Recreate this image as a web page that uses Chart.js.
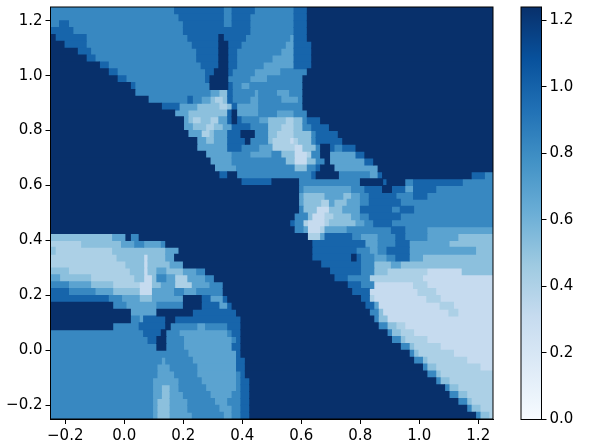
<!DOCTYPE html>
<html>
<head>
<meta charset="utf-8">
<style>
  html, body { margin: 0; background: #fff; }
  canvas { position: absolute; left: 0; top: 0; }
</style>
<script src="https://cdn.jsdelivr.net/npm/chart.js@4"></script>
</head>
<body>
<canvas id="map" width="598" height="448"></canvas>
<canvas id="bar" width="598" height="448"></canvas>
<script>
/* ============ DATA ============ */
const xTicks = [-0.2, 0, 0.2, 0.4, 0.6, 0.8, 1.0, 1.2];
const yTicks = [-0.2, 0, 0.2, 0.4, 0.6, 0.8, 1.0, 1.2];
const barTicks = [0, 0.2, 0.4, 0.6, 0.8, 1.0, 1.2];
const axisRange = [-0.25, 1.25];
const valueRange = [0, 1.24];
const columnCount = 100;

// value of each band seen in the picture
const levelValues = [1.24, 0.99, 0.82, 0.68, 0.52, 0.41, 0.31];

// one line per row, top to bottom: "level@column where the run ends"
const runRows = [
  "2@28 1@39 2@41 1@46 2@55 1@58 0@100",
  "2@29 1@39 2@41 1@45 2@55 1@58 0@100",
  "2@2 1@4 2@30 1@39 2@41 1@45 2@55 1@58 0@100",
  "1@5 2@30 1@45 2@55 1@58 0@100",
  "0@1 1@8 2@31 1@38 0@39 1@44 2@54 3@55 1@58 0@100",
  "0@3 1@8 2@32 1@38 0@40 1@43 2@53 3@55 1@59 0@100",
  "0@6 1@9 2@33 1@38 0@40 1@42 2@52 3@55 1@59 0@100",
  "0@8 1@10 2@33 1@38 0@40 1@42 2@50 3@55 1@59 0@100",
  "0@11 1@13 2@34 1@38 0@40 1@42 2@48 3@55 1@59 0@100",
  "0@13 1@15 2@35 1@37 0@40 1@41 2@46 3@52 2@58 0@100",
  "0@15 1@17 2@35 1@36 0@40 2@45 3@49 2@57 0@100",
  "0@18 1@19 2@36 0@40 1@41 2@43 3@45 2@57 0@100",
  "0@19 2@36 3@38 4@40 1@41 2@46 3@47 2@51 3@54 2@57 0@100",
  "0@22 2@31 1@32 2@34 3@36 4@37 5@39 4@40 1@41 2@45 3@47 2@52 3@56 2@57 0@100",
  "0@25 1@29 3@33 4@38 5@40 4@41 1@42 3@47 2@57 0@100",
  "0@28 3@31 4@40 1@41 0@42 3@47 2@51 3@55 2@58 0@100",
  "0@30 3@31 4@32 5@34 4@36 5@38 3@40 1@41 0@42 1@43 2@47 3@49 4@53 5@55 4@57 2@58 1@61 0@100",
  "0@30 3@32 4@35 5@37 4@39 3@41 1@45 2@49 4@52 5@55 4@57 2@59 1@63 0@100",
  "0@31 3@34 5@36 4@37 3@40 1@43 0@46 2@49 4@51 5@55 4@59 2@60 1@65 0@100",
  "0@33 3@35 4@37 3@40 1@44 0@45 2@49 4@50 5@54 6@55 5@56 4@59 2@60 1@66 0@100",
  "0@33 3@40 1@43 2@47 3@50 5@55 6@57 4@60 2@61 0@63 1@64 2@66 1@69 0@100",
  "0@35 3@41 2@45 3@50 2@52 4@55 6@58 5@59 2@61 0@63 3@69 1@71 0@100",
  "0@36 3@41 2@53 4@55 6@58 4@60 2@62 0@63 3@71 1@73 0@100",
  "0@37 3@42 2@55 4@58 2@60 1@61 0@64 3@74 0@100",
  "0@38 1@40 0@42 2@59 1@60 0@65 2@72 3@74 1@75 0@95 1@98 2@100",
  "0@43 1@50 0@56 2@70 0@75 1@76 0@80 2@82 1@93 2@100",
  "0@56 2@57 3@68 2@71 1@75 0@77 1@80 3@82 1@87 2@100",
  "0@56 3@57 4@62 3@66 4@68 3@70 2@72 1@78 2@82 1@85 2@100",
  "0@56 3@57 4@61 5@63 3@64 4@67 3@70 2@72 1@79 2@100",
  "0@56 2@57 4@60 6@63 4@66 3@70 1@77 2@79 1@82 2@100",
  "0@55 2@58 4@59 6@62 5@64 4@68 3@70 2@72 1@79 2@100",
  "0@54 1@55 2@57 5@58 6@62 5@63 4@69 3@71 2@73 1@77 2@100",
  "0@55 2@57 3@58 6@61 5@62 3@67 2@77 1@80 2@85 3@100",
  "4@14 3@17 0@18 2@20 0@58 5@61 3@62 1@68 2@70 3@74 2@78 1@80 2@85 3@92 4@100",
  "5@7 4@16 3@19 2@21 3@25 2@26 0@59 1@71 3@74 2@78 1@81 3@90 4@100",
  "4@1 5@14 4@26 3@29 0@59 1@69 2@72 3@74 2@76 1@81 3@96 4@100",
  "5@15 4@21 6@22 4@26 3@28 0@59 1@68 0@69 1@70 2@73 3@76 2@78 1@81 3@84 4@100",
  "5@17 4@21 6@22 4@27 3@30 0@61 1@70 2@73 4@77 3@79 4@100",
  "4@4 5@18 4@21 6@22 4@24 3@26 4@30 3@33 2@35 0@63 1@70 2@73 4@76 5@85 6@93 4@100",
  "3@2 4@9 5@19 4@21 6@23 4@24 2@26 3@28 5@31 3@35 2@37 0@64 1@67 2@72 5@84 6@100",
  "2@4 3@9 4@14 5@20 6@23 4@25 3@28 5@32 3@36 2@39 0@67 1@70 2@73 6@82 5@85 6@100",
  "1@4 2@10 3@14 4@20 6@23 3@28 2@30 3@33 2@39 0@68 1@72 6@83 5@87 6@100",
  "1@13 2@16 3@20 4@23 3@30 0@34 1@36 3@39 1@40 0@70 1@72 5@73 6@85 5@88 6@100",
  "0@14 2@17 3@24 2@30 0@34 1@38 3@40 1@41 0@71 1@73 3@74 6@88 5@91 6@100",
  "0@18 3@24 0@32 1@42 0@72 2@74 4@75 6@90 5@92 6@100",
  "0@18 2@20 3@21 1@26 0@28 1@43 0@73 2@74 4@76 6@100",
  "0@14 2@20 1@26 0@27 2@33 3@35 2@40 1@43 0@74 2@76 4@78 5@80 6@100",
  "2@21 1@25 0@26 2@29 3@40 2@41 1@43 0@76 2@77 4@79 5@82 6@100",
  "2@22 1@24 0@26 2@30 3@41 2@42 1@43 0@77 2@79 4@80 5@85 6@100",
  "2@24 0@26 2@30 3@41 1@43 0@79 2@81 4@82 5@88 6@100",
  "2@31 3@42 1@43 0@81 2@82 4@83 5@91 6@100",
  "2@25 3@26 2@32 3@42 1@44 0@82 2@84 4@85 5@94 6@100",
  "2@24 3@27 2@33 3@42 1@44 0@84 2@85 4@87 5@97 6@100",
  "2@24 3@28 2@33 3@42 2@43 1@44 0@85 2@87 4@88 5@100",
  "2@23 3@29 2@34 3@42 2@43 1@45 0@87 2@88 4@90 5@100",
  "2@23 3@25 4@27 3@29 2@35 3@42 2@43 1@45 0@89 2@90 4@92 5@100",
  "2@23 3@25 4@27 3@30 2@36 3@41 2@43 1@45 0@90 2@92 4@94 5@100",
  "2@23 3@24 4@27 3@31 2@37 3@40 2@43 1@45 0@92 2@94 4@95 5@100",
  "2@23 3@24 4@27 3@31 2@38 3@41 2@43 1@45 0@94 2@95 4@97 5@100",
  "2@23 3@24 4@27 3@32 2@39 3@41 2@43 1@45 0@96 2@97 4@99 5@100"
];

/* ============ COLOURS ============ */
const blues = ['#f7fbff', '#deebf7', '#c6dbef', '#9ecae1', '#6baed6', '#4292c6', '#2171b5', '#08519c', '#08306b'];
function bluesAt(value) {
  const t = Math.min(1, Math.max(0, value / valueRange[1])) * (blues.length - 1);
  const i = Math.min(blues.length - 2, Math.floor(t));
  const a = blues[i], b = blues[i + 1], f = t - i;
  const ch = (s, p) => parseInt(s.substr(p, 2), 16);
  const mix = p => Math.round(ch(a, p) + (ch(b, p) - ch(a, p)) * f);
  return `rgb(${mix(1)},${mix(3)},${mix(5)})`;
}

/* ============ SHARED ============ */
Chart.defaults.font.family = "'DejaVu Sans', sans-serif";
Chart.defaults.font.size = 15;
Chart.defaults.color = '#000';

const fmt = v => (v < 0 ? '\u2212' : '') + Math.abs(v).toFixed(1);
const axisGrid = { drawOnChartArea: false, offset: false, tickLength: 5, tickColor: '#000', tickWidth: 1 };
const axisBorder = { color: '#000', width: 1 };

// fixed axis box, and no extra room kept for half a tick label
const fitAxis = (s, side, size) => {
  s[side] = size;
  s.paddingTop = s.paddingBottom = s.paddingLeft = s.paddingRight = 0;
};

const frame = {
  id: 'frame',
  afterDraw(chart) {
    const { ctx, chartArea: a } = chart;
    ctx.save();
    ctx.strokeStyle = '#000';
    ctx.lineWidth = 1;
    ctx.strokeRect(a.left, a.top, a.right - a.left, a.bottom - a.top);
    ctx.restore();
  }
};

/* ============ HEATMAP ============ */
const span = axisRange[1] - axisRange[0];
const cellW = span / columnCount;
const cellH = span / runRows.length;
const seam = 0.0015;

const levelData = levelValues.map(() => []);
runRows.forEach((row, r) => {
  const y = axisRange[1] - (r + 0.5) * cellH;
  let start = 0;
  row.split(' ').forEach(run => {
    const [level, end] = run.split('@').map(Number);
    levelData[level].push({
      x: [axisRange[0] + start * cellW, axisRange[0] + end * cellW + seam],
      y
    });
    start = end;
  });
});

new Chart(document.getElementById('map'), {
  type: 'bar',
  data: {
    datasets: levelValues.map((v, i) => ({
      data: levelData[i],
      backgroundColor: bluesAt(v),
      borderWidth: 0,
      barThickness: 7.2,
      grouped: false
    }))
  },
  options: {
    indexAxis: 'y',
    responsive: false,
    animation: false,
    layout: { padding: { top: 7, right: 105 } },
    plugins: { legend: { display: false }, tooltip: { enabled: false } },
    scales: {
      x: {
        type: 'linear', min: axisRange[0], max: axisRange[1],
        grid: axisGrid, border: axisBorder,
        afterBuildTicks: s => { s.ticks = xTicks.map(value => ({ value })); },
        afterFit: s => fitAxis(s, 'height', 29),
        ticks: { callback: fmt, maxRotation: 0, autoSkip: false, padding: 3 }
      },
      y: {
        type: 'linear', min: axisRange[0], max: axisRange[1], offset: false,
        grid: axisGrid, border: axisBorder,
        afterBuildTicks: s => { s.ticks = yTicks.map(value => ({ value })); },
        afterFit: s => fitAxis(s, 'width', 50.5),
        ticks: { callback: fmt, autoSkip: false, padding: 3 }
      }
    }
  },
  plugins: [frame]
});

/* ============ COLORBAR ============ */
new Chart(document.getElementById('bar'), {
  type: 'bar',
  data: {
    labels: [''],
    datasets: [{
      data: [valueRange],
      borderWidth: 0,
      barPercentage: 1,
      categoryPercentage: 1,
      backgroundColor: ctx => {
        const area = ctx.chart.chartArea;
        if (!area) return blues[4];
        const g = ctx.chart.ctx.createLinearGradient(0, area.bottom, 0, area.top);
        blues.forEach((c, i) => g.addColorStop(i / (blues.length - 1), c));
        return g;
      }
    }]
  },
  options: {
    responsive: false,
    animation: false,
    layout: { padding: { top: 7, left: 521, bottom: 28.5 } },
    plugins: { legend: { display: false }, tooltip: { enabled: false } },
    scales: {
      x: { display: false },
      y: {
        position: 'right', min: valueRange[0], max: valueRange[1],
        grid: axisGrid, border: axisBorder,
        afterBuildTicks: s => { s.ticks = barTicks.map(value => ({ value })); },
        afterFit: s => fitAxis(s, 'width', 56.5),
        ticks: { callback: fmt, autoSkip: false, padding: 3 }
      }
    }
  },
  plugins: [frame]
});
</script>
</body>
</html>
